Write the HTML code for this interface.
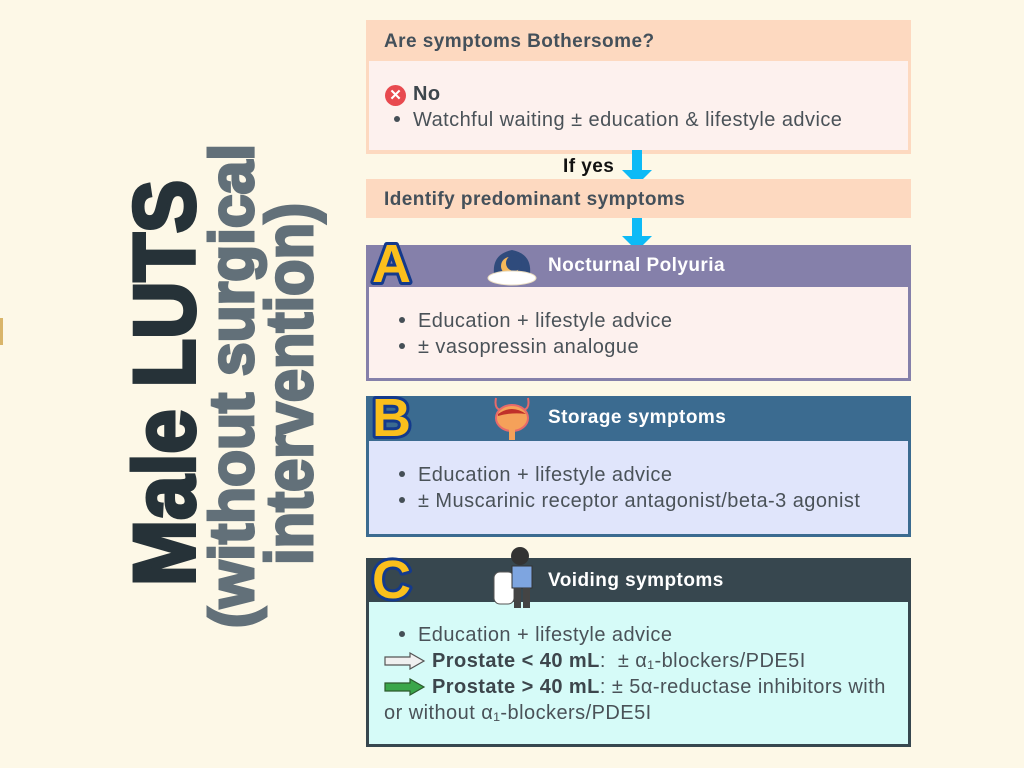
<!DOCTYPE html>
<html><head><meta charset="utf-8">
<style>
*{margin:0;padding:0;box-sizing:border-box}
body{width:1024px;height:768px;background:#fdf8e7;position:relative;overflow:hidden;font-family:"Liberation Sans",sans-serif;color:#454f56}
.a{position:absolute}
.hd{position:absolute;font-weight:bold;font-size:19px;line-height:22px;letter-spacing:0.45px;white-space:nowrap}
.tx{position:absolute;font-size:20px;line-height:22px;letter-spacing:0.45px;color:#4a5258;white-space:nowrap}
.dot{display:inline-block;width:6px;height:6px;border-radius:3px;background:#454f56;margin:0 13px 3px 15px;vertical-align:middle}
.wh{color:#fff}
</style></head><body>
<div class="a" style="left:0;top:318px;width:3px;height:27px;background:#d9b56a"></div>
<svg class="a" style="left:0;top:0" width="360" height="768">
<text transform="translate(194,383) rotate(-90)" text-anchor="middle" font-family="Liberation Sans" font-weight="bold" font-size="86" fill="#263238" stroke="#263238" stroke-width="4" textLength="406" lengthAdjust="spacingAndGlyphs">Male LUTS</text>
<text transform="translate(253,386) rotate(-90)" text-anchor="middle" font-family="Liberation Sans" font-weight="bold" font-size="62" fill="#627079" stroke="#627079" stroke-width="3" textLength="484" lengthAdjust="spacingAndGlyphs">(without surgical</text>
<text transform="translate(312,384) rotate(-90)" text-anchor="middle" font-family="Liberation Sans" font-weight="bold" font-size="66" fill="#627079" stroke="#627079" stroke-width="3" textLength="362" lengthAdjust="spacingAndGlyphs">intervention)</text>
</svg>

<!-- Box 1 -->
<div class="a" style="left:366px;top:20px;width:545px;height:134px;background:#fdd9c0"></div>
<div class="a" style="left:369px;top:61px;width:539px;height:89px;background:#fdf1ee"></div>
<div class="hd" style="left:384px;top:31px;color:#44505a">Are symptoms Bothersome?</div>
<div class="a" style="left:385px;top:85px;width:21px;height:21px;border-radius:50%;background:#e84a4f;color:#fff;font-weight:bold;font-size:15px;line-height:21px;text-align:center">✕</div>
<div class="hd" style="left:413px;top:83px;font-size:20px;color:#3d464c">No</div>
<div class="tx" style="left:384px;top:109px"><span class="dot" style="margin-left:10px"></span>Watchful waiting ± education &amp; lifestyle advice</div>

<div class="hd" style="left:563px;top:156px;color:#111">If yes</div>
<svg class="a" style="left:622px;top:150px" width="32" height="36"><polygon points="10,0 20,0 20,20 30,20 15,35 0,20 10,20" fill="#0dbaf6"/></svg>

<div class="a" style="left:366px;top:179px;width:545px;height:39px;background:#fdd9c0"></div>
<div class="hd" style="left:384px;top:189px;color:#44505a">Identify predominant symptoms</div>
<svg class="a" style="left:622px;top:218px" width="32" height="34"><polygon points="10,0 20,0 20,18 30,18 15,33 0,18 10,18" fill="#0dbaf6"/></svg>

<!-- A -->
<div class="a" style="left:366px;top:245px;width:545px;height:136px;background:#8580aa"></div>
<div class="a" style="left:369px;top:287px;width:539px;height:91px;background:#fdf1ee"></div>
<div class="hd wh" style="left:548px;top:255px">Nocturnal Polyuria</div>
<svg class="a" style="left:486px;top:246px" width="52" height="40"><path d="M8 28 Q6 8 26 4 Q46 8 44 28Z" fill="#2f4b7c"/><circle cx="24" cy="20" r="9" fill="#f6b85a"/><circle cx="28" cy="17" r="8" fill="#2f4b7c"/><ellipse cx="26" cy="32" rx="24" ry="7" fill="#fff" stroke="#e9dcc0"/></svg>
<div class="tx" style="left:384px;top:310px"><span class="dot"></span>Education + lifestyle advice</div>
<div class="tx" style="left:384px;top:336px"><span class="dot"></span>± vasopressin analogue</div>

<!-- B -->
<div class="a" style="left:366px;top:396px;width:545px;height:141px;background:#3b6b90"></div>
<div class="a" style="left:369px;top:441px;width:539px;height:93px;background:#e0e5fb"></div>
<div class="hd wh" style="left:548px;top:407px">Storage symptoms</div>
<svg class="a" style="left:486px;top:394px" width="52" height="48"><path d="M10 4 Q8 14 14 16 M42 4 Q44 14 38 16" stroke="#e86a6a" stroke-width="2" fill="none"/><ellipse cx="26" cy="24" rx="16" ry="13" fill="#f5a15a" stroke="#e86a6a" stroke-width="2"/><path d="M12 20 Q26 10 40 20 Q26 18 12 22Z" fill="#c0302a"/><rect x="23" y="34" width="6" height="12" fill="#f5a15a"/></svg>
<div class="tx" style="left:384px;top:464px"><span class="dot"></span>Education + lifestyle advice</div>
<div class="tx" style="left:384px;top:490px"><span class="dot"></span>± Muscarinic receptor antagonist/beta-3 agonist</div>

<!-- C -->
<div class="a" style="left:366px;top:558px;width:545px;height:189px;background:#37474f"></div>
<div class="a" style="left:369px;top:602px;width:539px;height:142px;background:#d6fbf8"></div>
<div class="hd wh" style="left:548px;top:570px">Voiding symptoms</div>
<svg class="a" style="left:492px;top:546px" width="50" height="66"><rect x="2" y="26" width="20" height="32" rx="6" fill="#fff" stroke="#555"/><circle cx="28" cy="10" r="9" fill="#333"/><rect x="20" y="20" width="20" height="22" fill="#7ea5e0" stroke="#333"/><rect x="22" y="42" width="7" height="20" fill="#444"/><rect x="31" y="42" width="7" height="20" fill="#444"/></svg>
<div class="tx" style="left:384px;top:624px"><span class="dot"></span>Education + lifestyle advice</div>
<svg class="a" style="left:384px;top:652px" width="42" height="18"><polygon points="1,5 26,5 26,1 40,9 26,17 26,13 1,13" fill="#f0f0f0" stroke="#555" stroke-width="1.2"/></svg>
<div class="tx" style="left:432px;top:650px"><b style="color:#3d464c">Prostate &lt; 40 mL</b>:&nbsp; ± α₁-blockers/PDE5I</div>
<svg class="a" style="left:384px;top:678px" width="42" height="18"><polygon points="1,5 26,5 26,1 40,9 26,17 26,13 1,13" fill="#3aa64a" stroke="#2d5a2d" stroke-width="1.2"/></svg>
<div class="tx" style="left:432px;top:676px"><b style="color:#3d464c">Prostate &gt; 40 mL</b>: ± 5α-reductase inhibitors with</div>
<div class="tx" style="left:384px;top:702px">or without α₁-blockers/PDE5I</div>

<!-- Letters -->
<svg class="a" style="left:366px;top:228px" width="60" height="390">
<g font-family="Liberation Sans" font-weight="bold" font-size="54" fill="#fbbf1c" stroke="#143a8c" stroke-width="6" stroke-linejoin="round" paint-order="stroke">
<text x="6" y="54">A</text>
<text x="6" y="208">B</text>
<text x="6" y="370">C</text>
</g>
</svg>
</body></html>
